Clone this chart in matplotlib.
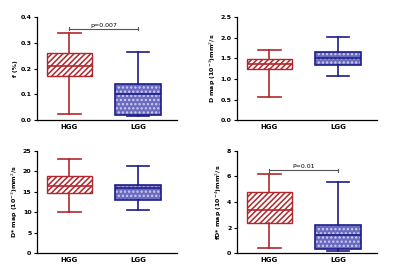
import matplotlib
matplotlib.use("Agg")
import matplotlib.pyplot as plt
from matplotlib.patches import PathPatch

groups = ["HGG", "LGG"]

# (whislo, q1, med, q3, whishi) per group per panel
f_stats = [(0.025, 0.172, 0.21, 0.26, 0.34), (0.015, 0.02, 0.10, 0.14, 0.265)]
d_stats = [(0.55, 1.23, 1.37, 1.49, 1.70), (1.07, 1.33, 1.50, 1.66, 2.02)]
ds_stats = [(10.0, 14.8, 16.5, 18.9, 23.0), (10.6, 13.0, 16.0, 16.7, 21.2)]
fds_stats = [(0.4, 2.35, 3.4, 4.8, 6.2), (0.2, 0.3, 1.4, 2.2, 5.6)]

ylabels = ["f (%)", "D map (10$^{-3}$)mm$^{2}$/s",
           "D* map (10$^{-3}$)mm$^{2}$/s", "fD* map (10$^{-4}$)mm$^{2}$/s"]
ylims = [(0, 0.4), (0, 2.5), (0, 25), (0, 8)]
yticks = [[0.0, 0.1, 0.2, 0.3, 0.4], [0.0, 0.5, 1.0, 1.5, 2.0, 2.5],
          [0, 5, 10, 15, 20, 25], [0, 2, 4, 6, 8]]
ytick_fmt = ["{:.1f}", "{:.1f}", "{:d}", "{:d}"]
sig_text = ["p=0.007", None, None, "P=0.01"]
sig_y = [0.355, None, None, 6.5]

RED = "#b0272d"
NAVY = "#1c1c8a"
BLUEFILL = "#6a6abf"

plt.rcParams["hatch.linewidth"] = 1.1

fig = plt.figure(figsize=(4.0, 2.73), dpi=100)
positions = [
    [0.0925, 0.560, 0.35, 0.377],
    [0.5925, 0.560, 0.35, 0.377],
    [0.0925, 0.073, 0.35, 0.374],
    [0.5925, 0.073, 0.35, 0.374],
]
all_stats = [f_stats, d_stats, ds_stats, fds_stats]

for i, (stats, pos) in enumerate(zip(all_stats, positions)):
    ax = fig.add_axes(pos)
    bxp_data = []
    for g, s in zip(groups, stats):
        bxp_data.append(dict(label=g, whislo=s[0], q1=s[1], med=s[2], q3=s[3], whishi=s[4], fliers=[]))
    bp = ax.bxp(bxp_data, positions=[1, 2], widths=0.66, patch_artist=True,
                showfliers=False, manage_ticks=False)
    cols = [RED, NAVY]
    for k, c in enumerate(cols):
        box = bp["boxes"][k]
        if k == 0:
            box.set_facecolor("white")
            box.set_edgecolor(c)
            box.set_hatch("//////")
            box.set_linewidth(1.0)
        else:
            box.set_facecolor(BLUEFILL)
            box.set_edgecolor("#cfcfee")
            box.set_hatch("....")
            box.set_linewidth(0)
            outline = PathPatch(box.get_path(), facecolor="none", edgecolor=c,
                                linewidth=1.2, transform=box.get_transform(), zorder=box.get_zorder() + 0.1)
            ax.add_patch(outline)
        bp["medians"][k].set_color(c)
        bp["medians"][k].set_linewidth(1.2)
        bp["medians"][k].set_zorder(5)
        for w in bp["whiskers"][2 * k:2 * k + 2]:
            w.set_color(c)
            w.set_linewidth(1.2)
        for cap in bp["caps"][2 * k:2 * k + 2]:
            cap.set_color(c)
            cap.set_linewidth(1.2)
    ax.set_xlim(0.53, 2.57)
    ax.set_ylim(*ylims[i])
    ax.set_yticks(yticks[i])
    ax.set_yticklabels([ytick_fmt[i].format(v) for v in yticks[i]], fontsize=4.5, fontweight="bold")
    ax.set_xticks([1, 2])
    ax.set_xticklabels(groups, fontsize=5, fontweight="bold")
    ax.tick_params(axis="x", length=0, pad=3)
    ax.tick_params(axis="y", length=2.5, width=0.8, pad=1.5)
    ax.spines["top"].set_visible(False)
    ax.spines["right"].set_visible(False)
    ax.spines["left"].set_linewidth(0.9)
    ax.spines["bottom"].set_linewidth(0.9)
    ax.set_ylabel(ylabels[i], fontsize=4.5, fontweight="bold", labelpad=2)
    if sig_text[i]:
        y = sig_y[i]
        ax.plot([1, 2], [y, y], color="#555555", linewidth=0.8)
        ax.plot([1, 1], [y - 0.015 * ylims[i][1], y + 0.015 * ylims[i][1]], color="#555555", linewidth=0.8)
        ax.plot([2, 2], [y - 0.015 * ylims[i][1], y + 0.015 * ylims[i][1]], color="#555555", linewidth=0.8)
        ax.text(1.5, y + 0.01 * ylims[i][1], sig_text[i], ha="center", va="bottom", fontsize=4.5)

fig.savefig("out.png", dpi=100)
